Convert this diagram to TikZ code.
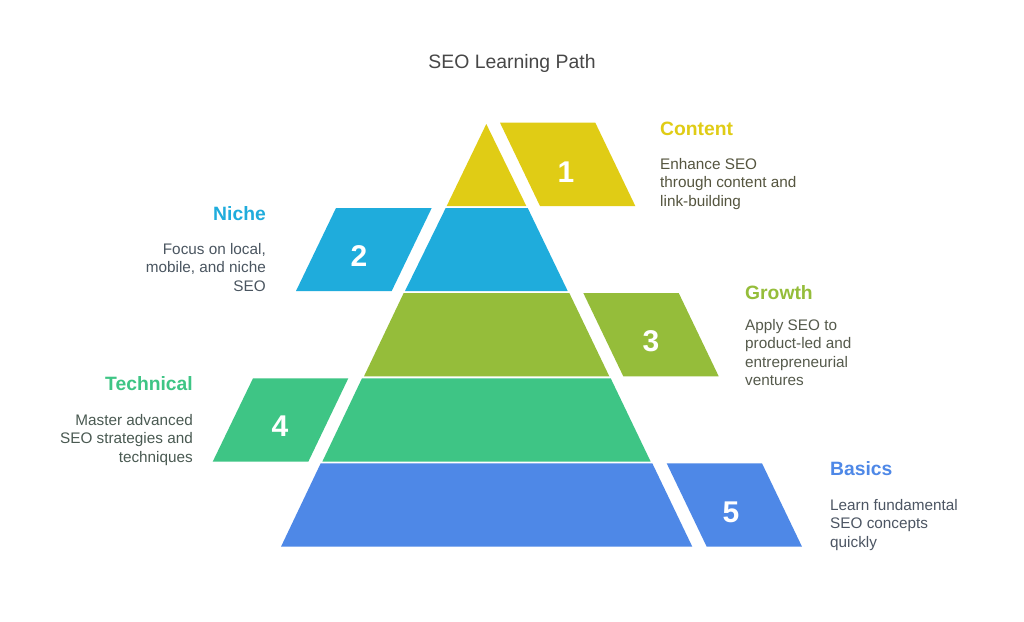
\documentclass[tikz,border=0pt]{standalone}
\usepackage{fontspec}
\setmainfont{Liberation Sans}
\definecolor{cyellow}{HTML}{E0CC15}
\definecolor{cteal}{HTML}{1FACDC}
\definecolor{colive}{HTML}{95BD3A}
\definecolor{cgreen}{HTML}{3EC585}
\definecolor{cblue}{HTML}{4E88E7}
\definecolor{tyellow}{HTML}{55553F}
\definecolor{tteal}{HTML}{4A5560}
\definecolor{tolive}{HTML}{555A4C}
\definecolor{tgreen}{HTML}{4A5A52}
\definecolor{tblue}{HTML}{4C5563}
\tikzset{
  headr/.style={anchor=base west,inner sep=0pt,font=\fontsize{19.3}{24}\selectfont\bfseries},
  headl/.style={anchor=base east,inner sep=0pt,font=\fontsize{19.3}{24}\selectfont\bfseries},
  bodyr/.style={anchor=north west,inner sep=0pt,align=left,font=\fontsize{15.3}{18.2}\selectfont},
  bodyl/.style={anchor=north east,inner sep=0pt,align=right,font=\fontsize{15.3}{18.2}\selectfont},
  numtxt/.style={inner sep=0pt,text=white,anchor=base,font=\fontsize{30}{36}\selectfont\bfseries},
  titletxt/.style={inner sep=0pt,anchor=base,text=black!72,font=\fontsize{19.4}{24}\selectfont}
}
\begin{document}
\begin{tikzpicture}[x=1pt,y=-1pt]
\useasboundingbox (0,0) rectangle (1024,621);
\fill[white] (0,0) rectangle (1024,621);
\node[titletxt] (title) at (512,68) {SEO Learning Path};
% pyramid levels
\fill[cyellow] (486.3,124) -- (526.3,206) -- (446.7,206) -- cycle;
\fill[cteal] (445.7,208) -- (527.7,208) -- (567.7,291) -- (405,291) -- cycle;
\fill[colive] (403.7,293) -- (569.3,293) -- (609.3,376.3) -- (364,376.3) -- cycle;
\fill[cgreen] (362,378.3) -- (610.7,378.3) -- (650.7,461.7) -- (322.3,461.7) -- cycle;
\fill[cblue] (320.7,463.3) -- (652.3,463.3) -- (692.3,546.7) -- (281,546.7) -- cycle;
% side parallelograms
\fill[cyellow] (500,122.7) -- (595.3,122.7) -- (635.3,206) -- (540,206) -- cycle;
\fill[cteal] (336,208) -- (431.7,208) -- (391.7,291) -- (296,291) -- cycle;
\fill[colive] (583.3,293) -- (678.7,293) -- (718.7,376.3) -- (623.3,376.3) -- cycle;
\fill[cgreen] (253,378.3) -- (348.3,378.3) -- (308.3,461.7) -- (212.7,461.7) -- cycle;
\fill[cblue] (666.7,463.3) -- (762,463.3) -- (802,546.7) -- (706.7,546.7) -- cycle;
% numbers
\node[numtxt] (n1) at (566,182) {1};
\node[numtxt] (n2) at (359,266.5) {2};
\node[numtxt] (n3) at (651,351.5) {3};
\node[numtxt] (n4) at (280,436.5) {4};
\node[numtxt] (n5) at (731,522.5) {5};
% headings
\node[headr,text=cyellow] (h1) at (660,135) {Content};
\node[headl,text=cteal] (h2) at (266,220) {Niche};
\node[headr,text=colive] (h3) at (745,299) {Growth};
\node[headl,text=cgreen] (h4) at (193,390) {Technical};
\node[headr,text=cblue] (h5) at (830,475) {Basics};
% descriptions
\node[bodyr,text=tyellow] (b1) at (660,158.5) {Enhance SEO\\through content and\\link-building};
\node[bodyl,text=tteal] (b2) at (266,243.5) {Focus on local,\\mobile, and niche\\SEO};
\node[bodyr,text=tolive] (b3) at (745,319.5) {Apply SEO to\\product-led and\\entrepreneurial\\ventures};
\node[bodyl,text=tgreen] (b4) at (193,414.5) {Master advanced\\SEO strategies and\\techniques};
\node[bodyr,text=tblue] (b5) at (830,499.5) {Learn fundamental\\SEO concepts\\quickly};
\end{tikzpicture}
\end{document}
